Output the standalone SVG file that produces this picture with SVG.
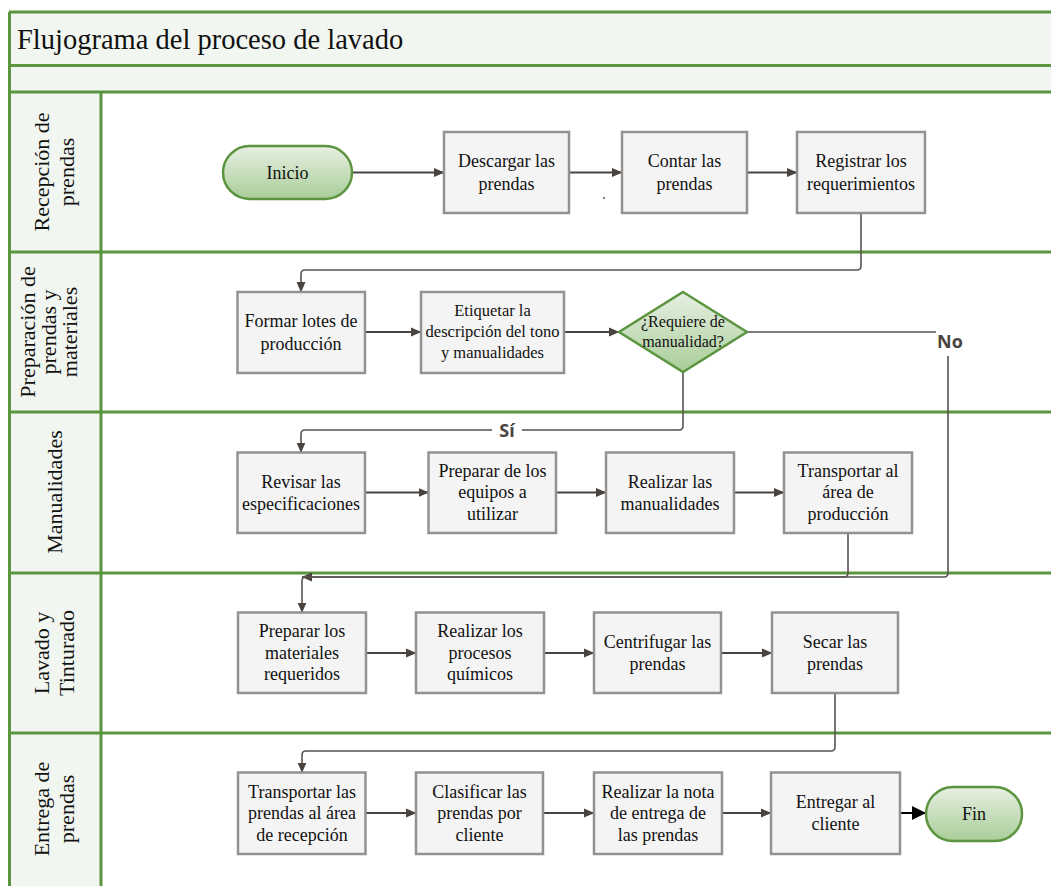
<svg xmlns="http://www.w3.org/2000/svg" width="1051" height="886" viewBox="0 0 1051 886">
<defs>
<linearGradient id="g" x1="0" y1="0" x2="0" y2="1">
<stop offset="0" stop-color="#e7f0e3"/>
<stop offset="1" stop-color="#a9cd98"/>
</linearGradient>
<marker id="ah" markerWidth="11" markerHeight="10" refX="10" refY="5" orient="auto" markerUnits="userSpaceOnUse">
<path d="M0,0.5 L10.5,5 L0,9.5 z" fill="#4a433e"/>
</marker>
<marker id="ahb" markerWidth="15" markerHeight="14" refX="14" refY="7" orient="auto" markerUnits="userSpaceOnUse">
<path d="M0,0 L14,7 L0,14 z" fill="#000"/>
</marker>
<style>
.lane{stroke:#5c9540;stroke-width:3;fill:none}
.hdr{fill:#f1f6f0}
.box{fill:#f4f4f4;stroke:#929292;stroke-width:2.5}
.term{fill:url(#g);stroke:#5c9540;stroke-width:2.5}
.t{font-family:"Liberation Serif","Times New Roman",serif;font-size:18px;fill:#111;text-anchor:middle}
.lt{font-family:"Liberation Serif","Times New Roman",serif;font-size:22px;fill:#111;text-anchor:middle}
.title{font-family:"Liberation Serif","Times New Roman",serif;font-size:28.5px;fill:#111}
.flow{stroke:#4a433e;stroke-width:2;fill:none;marker-end:url(#ah)}
.elb{stroke:#5a524d;stroke-width:1.6;fill:none}
.lbl{font-family:"Open Sans","DejaVu Sans",sans-serif;font-weight:bold;font-size:18px;fill:#4a4440;text-anchor:middle}
</style>
</defs>
<rect x="0" y="0" width="1051" height="886" fill="#fff"/>
<g id="frame">
<rect class="hdr" x="9" y="12" width="1042" height="80"/>
<rect class="hdr" x="9" y="92" width="92" height="794"/>
<line class="lane" x1="9" y1="12" x2="1051" y2="12"/>
<line class="lane" x1="9" y1="65.5" x2="1051" y2="65.5"/>
<line class="lane" x1="9" y1="92" x2="1051" y2="92"/>
<line class="lane" x1="9" y1="252" x2="1051" y2="252"/>
<line class="lane" x1="9" y1="412" x2="1051" y2="412"/>
<line class="lane" x1="9" y1="573" x2="1051" y2="573"/>
<line class="lane" x1="9" y1="733" x2="1051" y2="733"/>
<line class="lane" x1="9.5" y1="12" x2="9.5" y2="886"/>
<line class="lane" x1="101" y1="92" x2="101" y2="886"/>
<text class="title" x="17" y="49">Flujograma del proceso de lavado</text>
</g>
<g id="lane-headers">
<text class="lt" transform="translate(55,172) rotate(-90)"><tspan x="0" y="-6">Recepción de</tspan><tspan x="0" y="19">prendas</tspan></text>
<text class="lt" transform="translate(55,332) rotate(-90)"><tspan x="0" y="-20">Preparación de</tspan><tspan x="0" y="1">prendas y</tspan><tspan x="0" y="22">materiales</tspan></text>
<text class="lt" transform="translate(55,492) rotate(-90)"><tspan x="0" y="7">Manualidades</tspan></text>
<text class="lt" transform="translate(55,653) rotate(-90)"><tspan x="0" y="-6">Lavado y</tspan><tspan x="0" y="19">Tinturado</tspan></text>
<text class="lt" transform="translate(55,809) rotate(-90)"><tspan x="0" y="-6">Entrega de</tspan><tspan x="0" y="19">prendas</tspan></text>
</g>
<g id="connectors">
<line class="flow" x1="352" y1="172.5" x2="444" y2="172.5"/>
<line class="flow" x1="569" y1="172.5" x2="622" y2="172.5"/>
<line class="flow" x1="747" y1="172.5" x2="797" y2="172.5"/>
<path class="elb" marker-end="url(#ah)" d="M861,213 V266 Q861,270 857,270 H305 Q301,270 301,274 V292"/>
<line class="flow" x1="365" y1="332" x2="421" y2="332"/>
<line class="flow" x1="564" y1="332" x2="619" y2="332"/>
<path class="elb" d="M747,332 H936"/>
<path class="elb" marker-end="url(#ah)" d="M948,356 V573 Q948,577 944,577 H302"/>
<path class="elb" marker-end="url(#ah)" d="M683,372 V426 Q683,430 679,430 H305 Q301,430 301,434 V452.5"/>
<line class="flow" x1="365" y1="492.5" x2="428.5" y2="492.5"/>
<line class="flow" x1="556" y1="492.5" x2="606" y2="492.5"/>
<line class="flow" x1="734" y1="492.5" x2="784" y2="492.5"/>
<path class="elb" marker-end="url(#ah)" d="M848,533 V573 Q848,577 844,577 H306 Q302,577 302,581 V612.5"/>
<line class="flow" x1="366" y1="653" x2="416" y2="653"/>
<line class="flow" x1="544" y1="653" x2="594" y2="653"/>
<line class="flow" x1="721" y1="653" x2="772" y2="653"/>
<path class="elb" marker-end="url(#ah)" d="M835,693 V747 Q835,751 831,751 H306 Q302,751 302,755 V772.5"/>
<line class="flow" x1="365.5" y1="813" x2="416" y2="813"/>
<line class="flow" x1="543" y1="813" x2="594" y2="813"/>
<line class="flow" x1="722" y1="813" x2="771" y2="813"/>
<line x1="900" y1="813" x2="926" y2="813" stroke="#000" stroke-width="2" marker-end="url(#ahb)"/>
<rect x="492" y="421" width="30" height="20" fill="#fff"/>
<text class="lbl" x="507" y="437">Sí</text>
<text class="lbl" x="950" y="348">No</text>
<circle cx="604" cy="198" r="1.2" fill="#8a8a8a"/>
</g>
<g id="inicio"><rect class="term" x="223" y="146" width="129" height="53" rx="26.5"/><text class="t" x="287.5" y="178.5">Inicio</text></g>
<g id="descargar"><rect class="box" x="444" y="132" width="125" height="81"/><text class="t"><tspan x="506.5" y="167">Descargar las</tspan><tspan x="506.5" y="189.5">prendas</tspan></text></g>
<g id="contar"><rect class="box" x="622" y="132" width="125" height="81"/><text class="t"><tspan x="684.5" y="167">Contar las</tspan><tspan x="684.5" y="189.5">prendas</tspan></text></g>
<g id="registrar"><rect class="box" x="797" y="132" width="128" height="81"/><text class="t"><tspan x="861" y="167">Registrar los</tspan><tspan x="861" y="189.5">requerimientos</tspan></text></g>
<g id="formar"><rect class="box" x="237.5" y="292" width="127.5" height="81"/><text class="t"><tspan x="301" y="327">Formar lotes de</tspan><tspan x="301" y="349.5">producción</tspan></text></g>
<g id="etiquetar"><rect class="box" x="421" y="292" width="143" height="81"/><text class="t" style="font-size:16.5px"><tspan x="492.5" y="316">Etiquetar la</tspan><tspan x="492.5" y="337">descripción del tono</tspan><tspan x="492.5" y="358">y manualidades</tspan></text></g>
<g id="decision"><path class="term" d="M683,292 L747,332 L683,372 L619,332 Z"/><text class="t" style="font-size:16px"><tspan x="683" y="327">¿Requiere de</tspan><tspan x="683" y="347">manualidad?</tspan></text></g>
<g id="revisar"><rect class="box" x="237.5" y="452.5" width="127.5" height="80.5"/><text class="t"><tspan x="301" y="487.5">Revisar las</tspan><tspan x="301" y="510">especificaciones</tspan></text></g>
<g id="preparar-equipos"><rect class="box" x="428.5" y="452.5" width="127.5" height="80.5"/><text class="t"><tspan x="492.5" y="476.5">Preparar de los</tspan><tspan x="492.5" y="498">equipos a</tspan><tspan x="492.5" y="519.5">utilizar</tspan></text></g>
<g id="realizar-manualidades"><rect class="box" x="606" y="452.5" width="128" height="80.5"/><text class="t"><tspan x="670" y="487.5">Realizar las</tspan><tspan x="670" y="510">manualidades</tspan></text></g>
<g id="transportar-produccion"><rect class="box" x="784" y="452.5" width="128" height="80.5"/><text class="t"><tspan x="848" y="476.5">Transportar al</tspan><tspan x="848" y="498">área de</tspan><tspan x="848" y="519.5">producción</tspan></text></g>
<g id="preparar-materiales"><rect class="box" x="238" y="612.5" width="128" height="80.5"/><text class="t"><tspan x="302" y="637">Preparar los</tspan><tspan x="302" y="658.5">materiales</tspan><tspan x="302" y="680">requeridos</tspan></text></g>
<g id="procesos-quimicos"><rect class="box" x="416" y="612.5" width="128" height="80.5"/><text class="t"><tspan x="480" y="637">Realizar los</tspan><tspan x="480" y="658.5">procesos</tspan><tspan x="480" y="680">químicos</tspan></text></g>
<g id="centrifugar"><rect class="box" x="594" y="612.5" width="127" height="80.5"/><text class="t"><tspan x="657.5" y="647.5">Centrifugar las</tspan><tspan x="657.5" y="670">prendas</tspan></text></g>
<g id="secar"><rect class="box" x="772" y="612.5" width="126" height="80.5"/><text class="t"><tspan x="835" y="647.5">Secar las</tspan><tspan x="835" y="670">prendas</tspan></text></g>
<g id="transportar-recepcion"><rect class="box" x="238" y="772.5" width="127.5" height="81.5"/><text class="t"><tspan x="302" y="797.5">Transportar las</tspan><tspan x="302" y="819">prendas al área</tspan><tspan x="302" y="840.5">de recepción</tspan></text></g>
<g id="clasificar"><rect class="box" x="416" y="772.5" width="127" height="81.5"/><text class="t"><tspan x="479.5" y="797.5">Clasificar las</tspan><tspan x="479.5" y="819">prendas por</tspan><tspan x="479.5" y="840.5">cliente</tspan></text></g>
<g id="nota-entrega"><rect class="box" x="594" y="772.5" width="128" height="81.5"/><text class="t"><tspan x="658" y="797.5">Realizar la nota</tspan><tspan x="658" y="819">de entrega de</tspan><tspan x="658" y="840.5">las prendas</tspan></text></g>
<g id="entregar"><rect class="box" x="771" y="772.5" width="129" height="81.5"/><text class="t"><tspan x="835.5" y="807.5">Entregar al</tspan><tspan x="835.5" y="830">cliente</tspan></text></g>
<g id="fin"><rect class="term" x="926" y="787" width="96" height="54" rx="27"/><text class="t" x="974" y="819.5">Fin</text></g>
</svg>
